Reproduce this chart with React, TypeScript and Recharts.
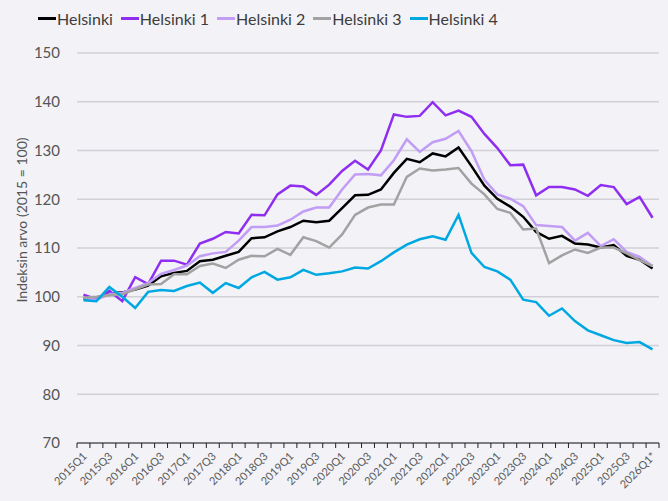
import React from 'react';
import { LineChart, Line, XAxis, YAxis, CartesianGrid, Legend } from 'recharts';

const quarters = [
  '2015Q1', '2015Q2', '2015Q3', '2015Q4',
  '2016Q1', '2016Q2', '2016Q3', '2016Q4',
  '2017Q1', '2017Q2', '2017Q3', '2017Q4',
  '2018Q1', '2018Q2', '2018Q3', '2018Q4',
  '2019Q1', '2019Q2', '2019Q3', '2019Q4',
  '2020Q1', '2020Q2', '2020Q3', '2020Q4',
  '2021Q1', '2021Q2', '2021Q3', '2021Q4',
  '2022Q1', '2022Q2', '2022Q3', '2022Q4',
  '2023Q1', '2023Q2', '2023Q3', '2023Q4',
  '2024Q1', '2024Q2', '2024Q3', '2024Q4',
  '2025Q1', '2025Q2', '2025Q3', '2025Q4',
  '2026Q1*',
];

const helsinki = [
  99.6, 99.8, 100.6, 100.9, 101.5, 102.3, 104.2, 104.9, 105.3, 107.3, 107.6, 108.4,
  109.2, 112.0, 112.2, 113.4, 114.3, 115.6, 115.3, 115.6, 118.2, 120.8, 120.9, 122.0,
  125.4, 128.3, 127.6, 129.4, 128.8, 130.6, 126.8, 122.8, 120.1, 118.5, 116.4, 113.3,
  111.9, 112.5, 110.9, 110.7, 110.1, 110.6, 108.4, 107.6, 105.8,
];

const helsinki1 = [
  100.4, 99.5, 101.2, 99.1, 104.0, 102.6, 107.4, 107.4, 106.6, 110.9, 111.9, 113.3,
  113.0, 116.8, 116.7, 121.0, 122.8, 122.6, 120.9, 123.0, 125.8, 127.9, 126.1, 130.0,
  137.4, 136.9, 137.1, 139.9, 137.2, 138.2, 136.9, 133.4, 130.5, 127.0, 127.1, 120.8,
  122.5, 122.5, 122.0, 120.7, 122.9, 122.5, 119.0, 120.5, 116.2,
];

const helsinki2 = [
  99.8, 99.4, 100.5, 100.8, 101.8, 102.8, 104.7, 105.5, 106.4, 108.3, 108.9, 109.2,
  111.5, 114.3, 114.3, 114.6, 115.8, 117.5, 118.3, 118.3, 122.0, 125.1, 125.2, 124.9,
  128.0, 132.3, 129.7, 131.7, 132.4, 134.0, 129.9, 124.0, 121.0, 120.1, 118.6, 114.7,
  114.5, 114.3, 111.5, 113.1, 110.4, 111.8, 109.2, 108.2, 106.3,
];

const helsinki3 = [
  99.8, 100.0, 100.3, 100.5, 101.5, 102.5, 102.6, 104.6, 104.6, 106.3, 106.8, 105.9,
  107.6, 108.4, 108.3, 109.8, 108.6, 112.2, 111.4, 110.1, 112.8, 116.8, 118.3, 118.9,
  118.9, 124.6, 126.3, 125.9, 126.1, 126.4, 123.2, 121.0, 118.0, 117.2, 113.8, 114.0,
  106.9, 108.5, 109.7, 109.0, 110.1, 110.1, 108.9, 107.5, 106.3,
];

const helsinki4 = [
  99.3, 99.1, 102.0, 100.0, 97.7, 101.0, 101.4, 101.2, 102.2, 102.9, 100.8, 102.8,
  101.8, 104.0, 105.1, 103.5, 104.0, 105.5, 104.5, 104.8, 105.2, 106.0, 105.8, 107.3,
  109.1, 110.7, 111.8, 112.4, 111.7, 116.8, 109.0, 106.1, 105.2, 103.5, 99.4, 98.9,
  96.1, 97.6, 95.0, 93.1, 92.1, 91.1, 90.5, 90.7, 89.2,
];

const seriesNames = ['Helsinki', 'Helsinki 1', 'Helsinki 2', 'Helsinki 3', 'Helsinki 4'];
const seriesKeys = ['h0', 'h1', 'h2', 'h3', 'h4'];
const seriesColors = ['#000000', '#8f2ef0', '#c29df5', '#a2a2a2', '#00a8e2'];
const seriesValues = [helsinki, helsinki1, helsinki2, helsinki3, helsinki4];

const yTicks = [70, 80, 90, 100, 110, 120, 130, 140, 150];
const yLabel = 'Indeksin arvo (2015 = 100)';

const data = quarters.map((q, i) => {
  const row: Record<string, string | number> = { q };
  seriesKeys.forEach((k, s) => {
    row[k] = seriesValues[s][i];
  });
  return row;
});

const W = 668;
const H = 501;
const margin = { top: 23, right: 9, bottom: 0, left: 17 };
const yAxisWidth = 60;
const plotWidth = W - margin.left - margin.right - yAxisWidth;
const band = plotWidth / quarters.length;
const FONT = 'Lato, "Open Sans", sans-serif';

function XTick(props: any) {
  const { x, y, payload, index } = props;
  const last = index === quarters.length - 1;
  const showLabel = index % 2 === 0;
  return (
    <g>
      <line x1={x - band / 2} x2={x - band / 2} y1={y} y2={y + 5} stroke="#222" strokeWidth={1} />
      {last && <line x1={x + band / 2} x2={x + band / 2} y1={y} y2={y + 5} stroke="#222" strokeWidth={1} />}
      {showLabel && (
        <text
          x={x + 4}
          y={y + 14}
          textAnchor="end"
          fontSize={11}
          fontFamily={FONT}
          fill="#5a5a5a"
          transform={`rotate(-45 ${x + 4} ${y + 14})`}
        >
          {payload.value}
        </text>
      )}
    </g>
  );
}

function LegendContent() {
  return (
    <div style={{ display: 'flex', alignItems: 'center', height: 30, fontFamily: FONT, fontSize: 16, color: '#3c3c3c', whiteSpace: 'nowrap' }}>
      {seriesNames.map((n, i) => (
        <div key={n} style={{ display: 'flex', alignItems: 'center', marginRight: 8 }}>
          <div style={{ width: 18, height: 3, background: seriesColors[i], marginRight: 1 }} />
          <span>{n}</span>
        </div>
      ))}
    </div>
  );
}

function YLabel() {
  return (
    <text
      x={21}
      y={220}
      transform="rotate(-90 21 220)"
      textAnchor="middle"
      dominantBaseline="central"
      fontSize={14}
      fontFamily={FONT}
      fill="#555"
    >
      {yLabel}
    </text>
  );
}

export default function App() {
  return (
    <div style={{ position: 'absolute', left: 0, top: 0, width: W, height: H, background: '#f2f2f7' }}>
      <LineChart width={W} height={H} data={data} margin={margin}>
        <CartesianGrid vertical={false} stroke="#d0d0d6" strokeWidth={1.5} />
        <XAxis
          dataKey="q"
          scale="band"
          interval={0}
          height={58}
          tickLine={false}
          tickSize={0}
          tickMargin={0}
          axisLine={{ stroke: '#222', strokeWidth: 1 }}
          tick={<XTick />}
        />
        <YAxis
          domain={[70, 150]}
          ticks={yTicks}
          width={yAxisWidth}
          axisLine={false}
          tickLine={false}
          tickSize={0}
          tickMargin={17}
          tick={{ fontSize: 15, fontFamily: FONT, fill: '#555' }}
          label={<YLabel />}
        />
        <Legend
          verticalAlign="top"
          align="left"
          height={30}
          wrapperStyle={{ top: 3, left: 38, width: 'auto' }}
          content={<LegendContent />}
        />
        {seriesKeys.map((k, i) => (
          <Line
            key={k}
            dataKey={k}
            name={seriesNames[i]}
            stroke={seriesColors[i]}
            strokeWidth={2.5}
            dot={false}
            activeDot={false}
            isAnimationActive={false}
          />
        ))}
      </LineChart>
    </div>
  );
}
